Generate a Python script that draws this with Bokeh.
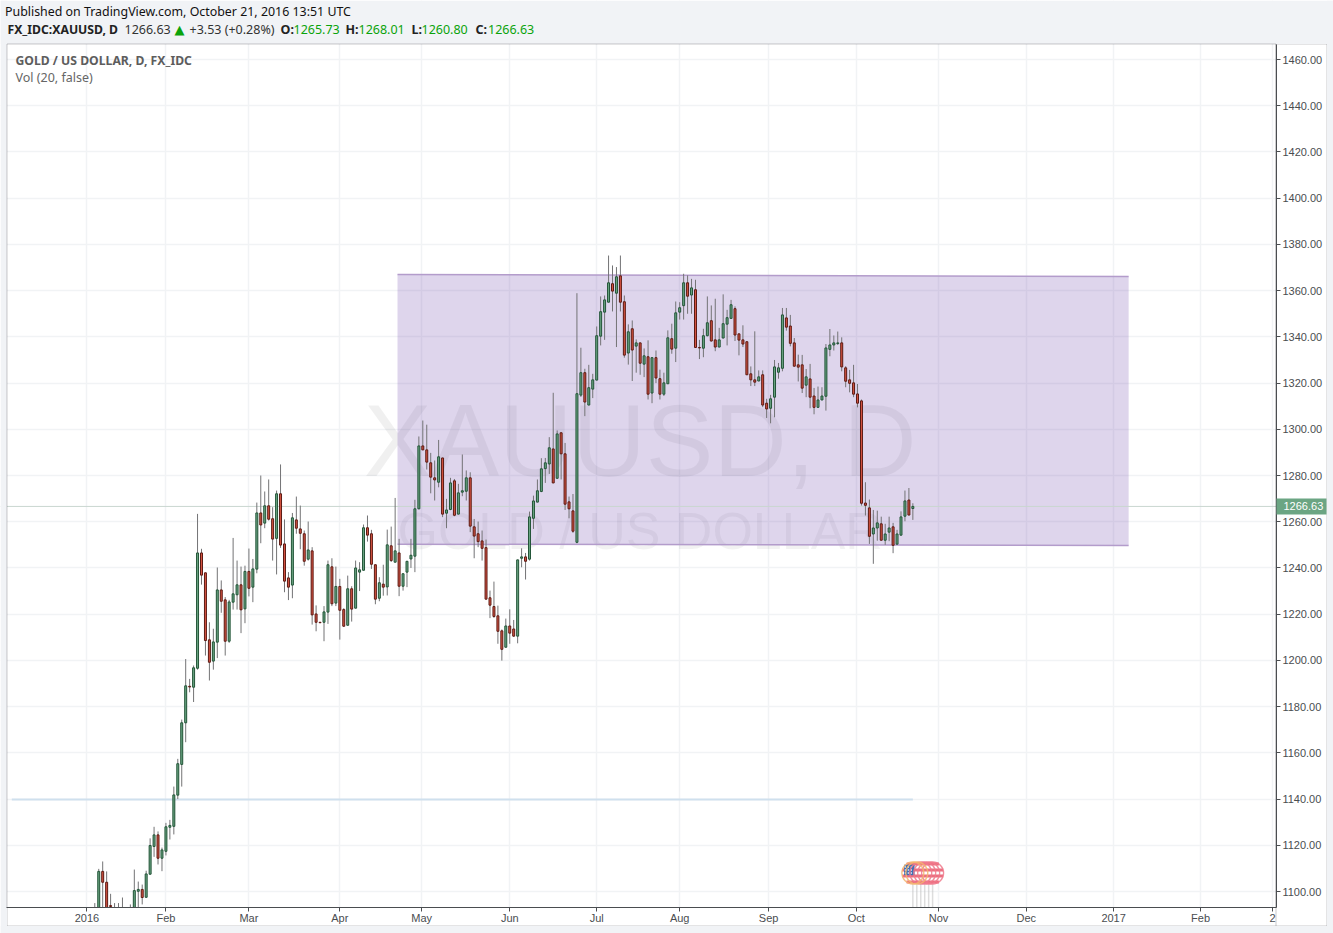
from bokeh.plotting import figure
from bokeh.models import FixedTicker, Label, BoxAnnotation, NumeralTickFormatter, ColumnDataSource
from bokeh.embed import file_html
from bokeh.resources import INLINE

opens = [1086,1086,1108.7,1104,1093.9,1088,1089,1088,1084,1086,1088,1100.1,1100.9,1097.5,1107.5,1119.5,1124.5,1114.4,1117.4,1127.8,
 1128.2,1141.7,1155,1173,1188.8,1188.4,1196.6,1246.5,1237.9,1208.9,1199.7,1207.9,1230.5,1226.2,1208.3,1225.2,1228.4,1232.7,1222.3,1238.5,
 1231.7,1239.5,1263.8,1259.4,1266.9,1261.3,1252.8,1272.1,1250.4,1235.7,1232.6,1260.8,1256.9,1254.8,1243.8,1247.4,1220.1,1216.5,1216.5,1220.9,
 1240.5,1224.8,1232,1222,1215.2,1231,1222.6,1238.2,1239,1257.4,1254.8,1241.4,1226.9,1233,1231.8,1249.6,1242.5,1246.5,1232.1,1238.2,
 1243.9,1245.1,1265.6,1292.8,1291.1,1285.5,1279,1277.1,1287.6,1263.7,1265.3,1277.7,1263.3,1272.8,1273.2,1279,1257.8,1254.8,1251.7,1248.8,
 1227.1,1223.3,1219.3,1212.8,1205.7,1214.9,1213.6,1210.5,1244.2,1244.8,1243.8,1261.5,1268.5,1273.1,1283,1285,1291.5,1278.8,1298.5,1289.4,
 1268.6,1264.7,1251.1,1314.8,1324.5,1310.5,1317.4,1321.3,1340.3,1350.7,1355,1363,1358.9,1366.4,1355.2,1333,1343.5,1336,1337.4,1328.2,
 1331.4,1315.7,1331,1321.9,1315.2,1319.7,1339.2,1335.1,1350.7,1353.5,1363.4,1358.1,1360.4,1335.4,1335.1,1340.5,1347,1338.7,1335.6,1339.5,
 1345.5,1348,1352.2,1341.3,1338.7,1337.9,1324,1321.4,1320.9,1323.6,1311.3,1309.1,1313.9,1324.7,1326.4,1348.2,1344.7,1337.4,1327.9,1327.9,
 1319.1,1321.8,1314.4,1309.5,1312.7,1314.3,1334.6,1336.5,1337.1,1337.4,1326.6,1321.4,1320.1,1315.3,1312.3,1268.1,1266,1254.7,1257.3,1259.1,
 1252,1255.5,1257.8,1250.3,1254.2,1262.4,1269.4,1265.73]
highs = [1095,1109.8,1113,1108.7,1099,1095,1095,1097.4,1090,1094.4,1109.5,1104.3,1103,1109,1123,1128,1126,1119,1129.7,1131,
 1145.4,1157.4,1174.4,1200.6,1192,1197.8,1263.4,1248.3,1238,1216.5,1213.7,1240.2,1234.6,1227.4,1226.2,1253,1243.2,1240.6,1241,1248.4,
 1243.9,1268.3,1280,1273.1,1278.3,1266.3,1273.5,1284.8,1261,1238.2,1263.8,1270.9,1267,1256.2,1260.1,1249,1223.8,1216.6,1223.5,1243.2,
 1244.2,1240.6,1235.3,1222.6,1236.7,1232.1,1243.2,1242.5,1258.8,1262.7,1256.5,1241.5,1236,1241.4,1256.6,1257.9,1270.3,1252.6,1237.6,1243,
 1252.6,1269.5,1296.9,1303.8,1302,1289.8,1286.5,1295.4,1287.7,1269.9,1279,1278.5,1276.4,1289.1,1282.2,1281.4,1261.2,1260.1,1256.2,1252.3,
 1230.2,1234.1,1223.7,1213.4,1218.1,1222.1,1217.5,1243.6,1248.5,1246.5,1264.4,1271.3,1278.3,1287.5,1287.6,1296.6,1315.8,1299.5,1298.6,1294.1,
 1270.9,1272,1358.9,1335.3,1326.2,1327.9,1324,1344.5,1357.5,1357.9,1375.2,1370.9,1370.2,1375.2,1357.9,1345.4,1347.1,1338.9,1337.5,1335,
 1338.5,1331.1,1334.1,1325.8,1324.5,1342.8,1345.7,1355.3,1355,1367.3,1366.6,1365.1,1364.7,1338.7,1343.5,1357.5,1353.6,1356.5,1343.9,1358.4,
 1351.7,1356,1353.2,1341.4,1345,1338,1327.2,1342.4,1325.5,1325.5,1313.2,1314.9,1330,1328.7,1352.5,1352.5,1349.5,1339.5,1332.3,1332.2,
 1326.1,1328.3,1317.9,1318.5,1318.2,1336.9,1343.4,1340.6,1342.3,1339.8,1327.3,1325.7,1327.9,1319.6,1312.9,1277.1,1269.6,1265.1,1264.8,1262.2,
 1259.1,1262.2,1259.5,1256.5,1264.5,1273.5,1274.6,1268.01]
lows = [1082,1083,1092,1085,1087,1084,1084,1083,1080,1083,1085,1090,1094.4,1097.3,1107.3,1115,1111.7,1108.8,1115.6,1122.5,
 1124.7,1140,1145.4,1164.6,1186.2,1182,1196,1232.8,1202.1,1191.3,1196,1201,1220.6,1202.1,1207.6,1222,1222,1211.8,1216.1,1227.7,
 1225.2,1237.7,1250.7,1257.2,1260.5,1243.2,1237.2,1248.7,1229.5,1226.1,1226.9,1254.8,1248.1,1241,1243.2,1215.5,1212.6,1216.2,1208.3,1215.8,
 1223.5,1223.5,1209,1214.5,1215.1,1216.8,1222.5,1230,1238.9,1251.4,1239.6,1224.3,1225.6,1228,1228.1,1242.6,1242.4,1227.8,1230.2,1231.7,
 1240,1238.2,1265.4,1291,1282.6,1272.3,1269.2,1274.9,1262,1257.2,1265,1262.4,1263.2,1271.05,1269.2,1255.5,1244.2,1249,1243.2,1226.4,
 1218.3,1218.4,1207.2,1199.9,1205.6,1207.2,1210.2,1207.4,1240.3,1235,1243.2,1256.9,1268.4,1272.8,1276.8,1280.7,1276.7,1278.7,1278.3,1265.1,
 1261.5,1255.2,1250.7,1314,1305.7,1310.4,1313.5,1321.2,1336.3,1338.7,1354.9,1351,1335.6,1351,1331,1328,1320.9,1324.5,1323.6,1322.6,
 1312.9,1311.3,1320,1312.9,1314.4,1319.6,1332.7,1329.1,1347.5,1347.5,1350,1350,1335.3,1330.4,1331.2,1340.2,1338,1333.8,1335.5,1339.4,
 1336.3,1347.9,1338.2,1332,1335.6,1323.5,1318.7,1318.7,1320.8,1309.6,1304.9,1302.6,1305.2,1321.9,1325.1,1342.7,1335.9,1327.2,1320.7,1315.7,
 1313.9,1309.1,1306.5,1309.4,1312.6,1308.1,1331.6,1334.1,1336.5,1325.1,1318.2,1316,1313.9,1309.5,1267,1262.7,1250.4,1241.8,1251.8,1251.9,
 1250,1251.6,1246.4,1250.2,1254.1,1260.2,1262.8,1260.80]
closes = [1090,1108.7,1104,1088,1093.5,1090,1087,1085,1086,1089,1100.4,1100.9,1097.4,1107.6,1119.9,1124.5,1114.4,1118,1128,1128.6,
 1141.8,1155.3,1173,1189,1188.5,1196.8,1246.5,1236.9,1208.6,1199.2,1208,1230.5,1225.6,1208.3,1225.3,1228.8,1232.7,1221.9,1238.5,1231.2,
 1239.6,1263.8,1258.6,1266.9,1261.1,1252.5,1272.1,1249.9,1234.3,1231.7,1261.7,1257.2,1255,1242.9,1247.8,1219.7,1216.5,1216.3,1221,1241.4,
 1224.5,1232,1221.7,1214.8,1231,1222.2,1240,1239.2,1257.4,1254.2,1241.6,1226.5,1233.6,1231.7,1250,1243.2,1247.4,1232.1,1237.5,1242.9,
 1245.5,1265.6,1292.8,1291.1,1285.8,1279.3,1278.1,1288.1,1263.3,1265.1,1276.8,1262.8,1272.5,1273.4,1279,1258.1,1253.8,1251.4,1248.5,1226.5,
 1223.9,1219,1212.6,1204.8,1214.9,1211.8,1210.5,1243.5,1244.8,1242.9,1262.1,1269,1273.4,1282.9,1285.5,1292,1276.8,1298,1289.4,1267.6,
 1265.6,1255.9,1315.4,1324.5,1311.8,1318,1321.4,1340.5,1350.9,1356,1363.4,1359.8,1366,1355,1332.1,1342.2,1334.3,1337.4,1328.6,1331.8,
 1315.2,1331,1322.2,1315.2,1320.1,1339.6,1334.7,1350.4,1352.6,1363.4,1357.6,1361.2,1335.4,1335.2,1340.5,1346.1,1338.2,1335.6,1338.7,1345.7,
 1348.3,1353.9,1340.8,1338.6,1336.9,1323.6,1321.4,1320.4,1322.7,1310.5,1308.8,1313.2,1327,1326.6,1349.5,1344.2,1337.2,1327.3,1326.9,1317.8,
 1322.7,1313.9,1309.5,1312.7,1314.4,1335.2,1336.5,1337.4,1337.4,1327,1320.8,1319.9,1315.2,1311.3,1268,1267.1,1253.7,1257.3,1259.5,1252,
 1254.7,1257.3,1249.8,1254.7,1262.1,1269,1262.9,1266.63]

x_ticks = [-2, 18, 39, 62, 82.7, 105, 127, 148, 170.5, 192.7, 213.5, 235.7, 257.8, 279.8, 298]
x_tick_labels = ["2016", "Feb", "Mar", "Apr", "May", "Jun", "Jul", "Aug", "Sep", "Oct", "Nov", "Dec", "2017", "Feb", "2"]
y_ticks = list(range(1100, 1480, 20))

range_x = [76.6, 261.6]
range_top = [1367, 1366.1]
range_bottom = [1250.3, 1249.7]
support_x = [-21, 207]
support_y = [1139.8, 1139.8]
last_price = 1266.63
event_bars = [212, 211, 210, 209, 208, 207]
event_colors = ["#f0798b", "#f0798b", "#f0798b", "#f0798b", "#f3b56d", "#f3b56d"]

BG = "#f1f3f6"
FRAME = "#4a4d50"
PX_X = 3.952
PX_Y = 2.311
X0, X1 = -23.86, 313.44
Y0, Y1 = 1081.83, 1485.55
PRICE_AXIS_X = 298.99
TIME_AXIS_Y = 1093.08

p = figure(width=1333, height=933, frame_width=1333, frame_height=933,
           x_range=(X0, X1), y_range=(Y0, Y1),
           y_axis_location="right", toolbar_location=None, output_backend="svg",
           min_border=0)
p.border_fill_color = BG
p.background_fill_color = "white"
p.outline_line_color = None

p.xgrid.ticker = FixedTicker(ticks=x_ticks)
p.ygrid.ticker = FixedTicker(ticks=y_ticks)
p.xgrid.grid_line_color = "#f1f3f5"
p.ygrid.grid_line_color = "#f1f3f5"
p.xgrid.grid_line_width = 1.5
p.ygrid.grid_line_width = 1.5

p.xaxis.ticker = FixedTicker(ticks=x_ticks)
p.xaxis.major_label_overrides = dict(zip(x_ticks, x_tick_labels))
p.xaxis.fixed_location = TIME_AXIS_Y
p.xaxis.bounds = (X0 + 6.5 / PX_X, PRICE_AXIS_X)
p.yaxis.ticker = FixedTicker(ticks=y_ticks)
p.yaxis.formatter = NumeralTickFormatter(format="0.00")
p.yaxis.fixed_location = PRICE_AXIS_X
p.yaxis.bounds = (TIME_AXIS_Y, Y1 - 43.5 / PX_Y)
for ax in (p.xaxis[0], p.yaxis[0]):
    ax.axis_line_color = FRAME
    ax.major_tick_line_color = FRAME
    ax.major_tick_in = 0
    ax.major_tick_out = 4
    ax.minor_tick_line_color = None
    ax.major_label_text_font = "Liberation Sans"
    ax.major_label_text_font_size = "11px"
    ax.major_label_text_color = "#4a4d50"
p.xaxis.major_label_standoff = 0
p.yaxis.major_label_standoff = 2

# watermark
p.add_layout(Label(x=138, y=1295.1, text="XAUUSD, D", text_font="Liberation Sans", text_font_size="101.5px",
                   text_color="#000000", text_alpha=0.06, text_align="center", text_baseline="alphabetic", level="underlay"))
p.add_layout(Label(x=138, y=1256, text="GOLD / US DOLLAR", text_font="Liberation Sans", text_font_size="52px",
                   text_color="#000000", text_alpha=0.05, text_align="center", text_baseline="alphabetic", level="underlay"))

# range rectangle
p.patch([range_x[0], range_x[1], range_x[1], range_x[0]],
        [range_top[0], range_top[1], range_bottom[1], range_bottom[0]],
        fill_color="#6a3fa8", fill_alpha=0.22, line_color=None)
p.line(range_x, range_top, line_color="#b39ccb", line_width=1.5)
p.line(range_x, range_bottom, line_color="#b39ccb", line_width=1.5)

# horizontal lines
p.line(support_x, support_y, line_color="#cfe0ee", line_width=2)
p.line([X0, PRICE_AXIS_X], [last_price, last_price], line_color="#c9d6d0", line_width=1)

# candles
idx = list(range(len(closes)))
up = [c >= o for o, c in zip(opens, closes)]
src = ColumnDataSource(dict(x=idx, o=opens, h=highs, l=lows, c=closes,
                            top=[max(a, b) for a, b in zip(opens, closes)],
                            bottom=[min(a, b) for a, b in zip(opens, closes)],
                            fill=["#6ba583" if u else "#d75442" for u in up],
                            edge=["#225437" if u else "#5b1a13" for u in up]))
p.segment("x", "h", "x", "l", source=src, line_color="#737375", line_width=1)
p.vbar("x", 0.5, "bottom", "top", source=src, fill_color="fill", line_color="edge", line_width=1)

# events: dotted stems, flag, rings
EV_Y = 1108
p.segment(event_bars, [TIME_AXIS_Y] * 6, event_bars, [EV_Y - 11 / PX_Y] * 6, line_color="#bcbcbc", line_width=1.5, line_dash="1 1")
p.scatter(event_bars, [EV_Y] * 6, size=22, fill_color="white", line_color=None)
x_min, x_max = min(event_bars), max(event_bars)
for k, off in enumerate([-9, -6, -3, 0, 3, 6, 9]):
    half = (11 ** 2 - off ** 2) ** 0.5 / PX_X
    if k % 2 == 0:
        p.hbar(y=[EV_Y - off / PX_Y], height=3 / PX_Y, left=[x_min - half], right=[x_max + half],
               fill_color="#e8566b", fill_alpha=0.85, line_color=None)
p.rect(x=[x_min - 0.9], y=[EV_Y + 3.1 / PX_Y], width=10.5 / PX_X, height=10.5 / PX_Y,
       fill_color="#3f6fb5", line_color=None)
for dx, dy in [(-4, -3), (-1, -3), (2, -3), (-4, 0), (-1, 0), (2, 0), (-4, 3), (-1, 3), (2, 3)]:
    p.scatter([x_min - 0.9 + dx / PX_X], [EV_Y + (3.1 + dy) / PX_Y], size=1.5, fill_color="white", line_color=None)
p.scatter(event_bars, [EV_Y] * 6, size=22, fill_alpha=0, line_color=event_colors, line_width=1.3, line_alpha=0.85)

# page background around the chart, white axis bands with their outer line
def box(left, right, top, bottom, fill, line=None, alpha=1):
    p.add_layout(BoxAnnotation(left=left, right=right, top=top, bottom=bottom,
                               left_units="canvas", right_units="canvas", top_units="canvas", bottom_units="canvas",
                               fill_color=fill, fill_alpha=alpha, line_color=line, line_width=1, level="glyph"))

box(6.5, 1326.5, 907, 925.5, "white", FRAME)
box(1275.5, 1326.5, 43.5, 925.5, "white", FRAME)
box(0, 1333, 0, 43.5, BG)
box(0, 1333, 925.5, 933, BG)
box(0, 6.5, 0, 933, BG)
box(1326.5, 1333, 0, 933, BG)
box(6.5, 1275.5, 43.5, 907, "white", FRAME, alpha=0)

# last price tag
p.add_layout(BoxAnnotation(left=1276, right=1326, left_units="canvas", right_units="canvas",
                           top=last_price + 8 / PX_Y, bottom=last_price - 8 / PX_Y,
                           fill_color="#6ba583", fill_alpha=1, line_color=None))
p.add_layout(Label(x=1283, y=505, x_units="canvas", y_units="canvas", text="1266.63", text_color="white",
                   text_font="Liberation Sans", text_font_size="11px", text_baseline="middle"))

# header and legend texts
def txt(x, y, t, color="#222222", bold=False, size="12.5px", font="Noto Sans"):
    p.add_layout(Label(x=x, y=y, x_units="canvas", y_units="canvas", text=t, text_color=color,
                       text_font=font, text_font_size=size, text_baseline="middle",
                       text_font_style="bold" if bold else "normal"))

GREEN = "#0ba30b"
txt(4.5, 11, "Published on TradingView.com, October 21, 2016 13:51 UTC", "#111111", size="12.4px")
txt(7, 29, "FX_IDC:XAUUSD, D", "#222222", True, size="12.2px")
txt(124, 29, "1266.63", "#333333")
txt(174, 29, "\u25b2", GREEN, size="13px", font="DejaVu Sans")
txt(189, 29, "+3.53 (+0.28%)", "#333333")
for xa, xb, a, b in [(280, 293, "O:", "1265.73"), (345, 358, "H:", "1268.01"),
                     (411, 421, "L:", "1260.80"), (475, 487.5, "C:", "1266.63")]:
    txt(xa, 29, a, "#222222", True)
    txt(xb, 29, b, GREEN)
txt(15, 60, "GOLD / US DOLLAR, D, FX_IDC", "#5d5d5d", True, size="12.2px")
txt(15, 77, "Vol (20, false)", "#666666")

open("out.html", "w").write(file_html(p, INLINE))
